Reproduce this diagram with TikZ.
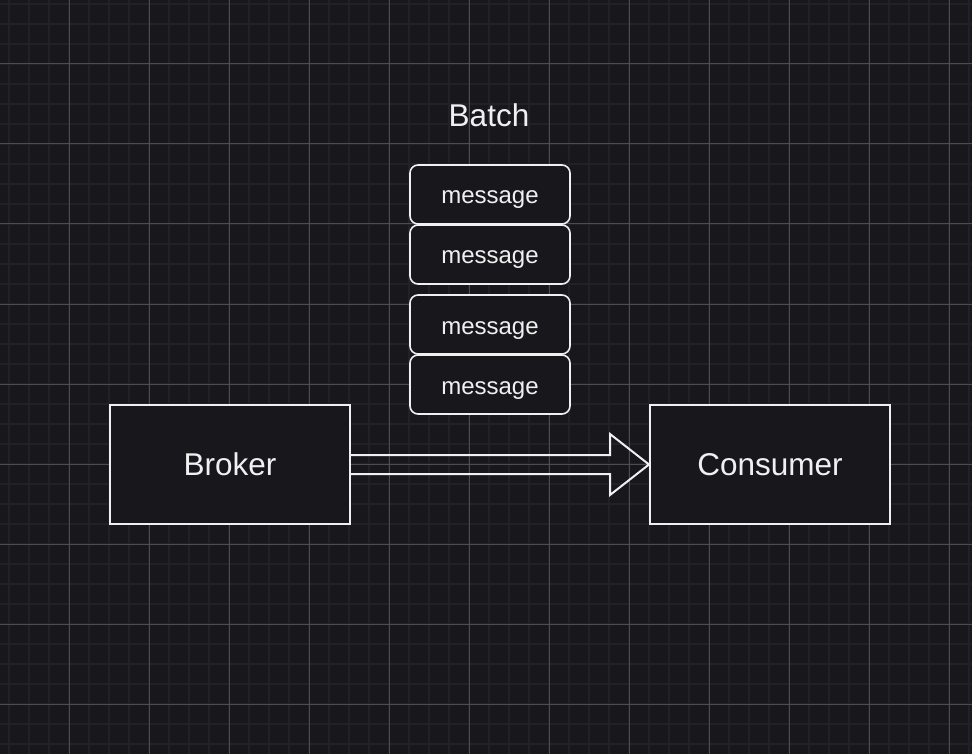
\documentclass[tikz,border=0pt]{standalone}
\usepackage{fontspec}
\setmainfont{Liberation Sans}
\usetikzlibrary{calc}
\definecolor{bgcol}{RGB}{24,23,28}
\definecolor{minorcol}{RGB}{34,33,39}
\definecolor{majorcol}{RGB}{76,76,81}
\definecolor{linecol}{RGB}{240,240,240}
\newcommand{\msgline}[1]{\raisebox{-9.5pt}[0pt][0pt]{#1}}
\tikzset{
  bigbox/.style={draw=linecol,fill=bgcol,line width=2pt,minimum width=240pt,minimum height=119pt,inner sep=0pt,text=linecol,font=\fontsize{31.5}{36}\selectfont},
  msgbox/.style={draw=linecol,fill=bgcol,line width=1.6pt,rounded corners=8pt,minimum width=160pt,minimum height=59pt,inner sep=0pt,text=linecol,font=\fontsize{24}{28}\selectfont}
}
\begin{document}
\begin{tikzpicture}[x=1pt,y=-1pt]
    % background and grid
    \fill[bgcol] (0,0) rectangle (972,754);
    \useasboundingbox (0,0) rectangle (972,754);
    \foreach \x in {9,29,...,969} \draw[minorcol,line width=1.5pt] (\x,0) -- (\x,754);
    \foreach \y in {4,24,...,744} \draw[minorcol,line width=1.5pt] (0,\y) -- (972,\y);
    \foreach \x in {69,149,...,949} \draw[majorcol,line width=1pt] (\x,0) -- (\x,754);
    \foreach \y in {64,144,...,704} \draw[majorcol,line width=1pt] (0,\y) -- (972,\y);
    % broker and consumer
    \node[bigbox] (broker) at (230,464.5) {Broker};
    \node[bigbox] (consumer) at (770,464.5) {Consumer};
    % batch of messages
    \node[text=linecol,font=\fontsize{31.5}{36}\selectfont] (batch) at (489,115) {Batch};
    \node[msgbox] (msgA) at (490,194.5) {\msgline{message}};
    \node[msgbox] (msgB) at (490,254.5) {\msgline{message}};
    \node[msgbox] (msgC) at (490,324.5) {\msgline{message}};
    \node[msgbox] (msgD) at (490,384.5) {\msgline{message}};
    % hollow arrow
    \draw[linecol,line width=2pt,line join=miter]
      ($(broker.east)+(0,-9.5)$) -- ($(consumer.west)+(-39,-9.5)$)
      -- ($(consumer.west)+(-39,-30.5)$) -- (consumer.west)
      -- ($(consumer.west)+(-39,30.5)$) -- ($(consumer.west)+(-39,9.5)$)
      -- ($(broker.east)+(0,9.5)$);
\end{tikzpicture}
\end{document}
